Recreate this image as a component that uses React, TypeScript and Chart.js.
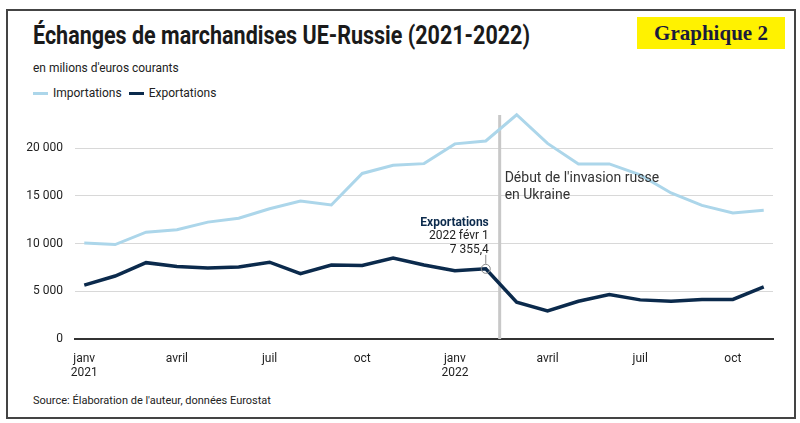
import React, { useEffect, useRef } from "react";
import { Chart, registerables } from "chart.js";

Chart.register(...registerables);

// Months: janv 2021 .. nov 2022
const categories = [
  "2021-01", "2021-02", "2021-03", "2021-04", "2021-05", "2021-06",
  "2021-07", "2021-08", "2021-09", "2021-10", "2021-11", "2021-12",
  "2022-01", "2022-02", "2022-03", "2022-04", "2022-05", "2022-06",
  "2022-07", "2022-08", "2022-09", "2022-10", "2022-11",
];
const monthNames = ["janv", "févr", "mars", "avril", "mai", "juin", "juil", "août", "sept", "oct", "nov", "déc"];

const importations = [
  10050, 9900, 11200, 11450, 12250, 12650, 13650, 14450, 14050, 17350, 18200, 18380,
  20450, 20750, 23500, 20500, 18350, 18350, 17200, 15300, 14000, 13200, 13500,
];
const exportations = [
  5650, 6600, 8000, 7600, 7450, 7550, 8050, 6850, 7750, 7700, 8480, 7750,
  7150, 7355.4, 3850, 2950, 3950, 4650, 4100, 3950, 4150, 4150, 5450,
];

const xTickIndices = [0, 3, 6, 9, 12, 15, 18, 21];
const yTicks = [0, 5000, 10000, 15000, 20000];

const highlightIndex = 13; // 2022 févr 1
const invasionPosition = 13.45; // 24 févr 2022
const invasionText = ["Début de l'invasion russe", "en Ukraine"];
const invasionTextY = 16850;

const IMP_COLOR = "#acd6ea";
const EXP_COLOR = "#0b2a4c";

const fmtThousands = (v: number) => {
  const [i, d] = String(v).split(".");
  const s = i.replace(/\B(?=(\d{3})+(?!\d))/g, " ");
  return d ? s + "," + d : s;
};

const annotationPlugin = {
  id: "annotations",
  beforeDatasetsDraw(chart: any) {
    const { ctx, scales, chartArea } = chart;
    const px = scales.x.getPixelForValue(invasionPosition);
    ctx.save();
    ctx.strokeStyle = "#c8c8c8";
    ctx.lineWidth = 3;
    ctx.beginPath();
    ctx.moveTo(px, chartArea.top + 5);
    ctx.lineTo(px, scales.y.getPixelForValue(0));
    ctx.stroke();
    ctx.restore();
  },
  afterDatasetsDraw(chart: any) {
    const { ctx, scales } = chart;
    const x = scales.x, y = scales.y;
    ctx.save();
    // invasion text
    ctx.fillStyle = "#333";
    ctx.font = "14px Roboto";
    ctx.textAlign = "left";
    ctx.textBaseline = "middle";
    const tx = x.getPixelForValue(invasionPosition) + 5;
    const ty = y.getPixelForValue(invasionTextY);
    invasionText.forEach((t, i) => ctx.fillText(t, tx, ty + i * 17));

    // highlighted point
    const px = x.getPixelForValue(highlightIndex);
    const py = y.getPixelForValue(exportations[highlightIndex]);
    ctx.strokeStyle = "#8a8a8a";
    ctx.lineWidth = 1;
    ctx.beginPath();
    ctx.arc(px, py, 4.5, 0, Math.PI * 2);
    ctx.stroke();
    ctx.beginPath();
    ctx.moveTo(px, py - 5);
    ctx.lineTo(px, py - 14);
    ctx.stroke();

    const c = categories[highlightIndex].split("-");
    const lines = [
      { t: "Exportations", f: "bold 12px Roboto", c: EXP_COLOR, dy: -46 },
      { t: `${c[0]} ${monthNames[Number(c[1]) - 1]} 1`, f: "12px Roboto", c: "#222", dy: -33 },
      { t: fmtThousands(exportations[highlightIndex]), f: "12px Roboto", c: "#222", dy: -19 },
    ];
    ctx.textAlign = "right";
    lines.forEach((l) => {
      ctx.font = l.f;
      ctx.fillStyle = l.c;
      ctx.fillText(l.t, px + 3, py + l.dy);
    });
    ctx.restore();
  },
};

export default function App() {
  const ref = useRef<HTMLCanvasElement>(null);

  useEffect(() => {
    document.body.style.margin = "0";
    const chart = new Chart(ref.current as HTMLCanvasElement, {
      type: "line",
      data: {
        datasets: [
          {
            label: "Importations",
            data: importations.map((v, i) => ({ x: i, y: v })),
            borderColor: IMP_COLOR,
            borderWidth: 3,
            pointRadius: 0,
            tension: 0,
          },
          {
            label: "Exportations",
            data: exportations.map((v, i) => ({ x: i, y: v })),
            borderColor: EXP_COLOR,
            borderWidth: 3.5,
            pointRadius: 0,
            tension: 0,
          },
        ],
      },
      options: {
        responsive: false,
        animation: false,
        devicePixelRatio: 1,
        layout: { padding: { left: 0, right: 27, top: 110, bottom: 43 } },
        plugins: { legend: { display: false }, tooltip: { enabled: false } },
        scales: {
          x: {
            type: "linear",
            min: -0.3,
            max: 22.3,
            afterBuildTicks: (s: any) => {
              s.ticks = xTickIndices.map((v) => ({ value: v }));
            },
            afterFit: (s: any) => {
              s.height = 41;
            },
            grid: { display: false },
            border: { display: true, color: "#333", width: 2 },
            ticks: {
              autoSkip: false,
              maxRotation: 0,
              padding: 5,
              color: "#222",
              font: { family: "Roboto", size: 12, lineHeight: 1.17 },
              callback: (v: any) => {
                const [yr, m] = categories[v].split("-");
                const name = monthNames[Number(m) - 1];
                return m === "01" ? [name, yr] : name;
              },
            },
          },
          y: {
            min: 0,
            max: 24000,
            afterBuildTicks: (s: any) => {
              s.ticks = yTicks.map((v) => ({ value: v }));
            },
            afterFit: (s: any) => {
              s.width = 75;
            },
            grid: { color: "#d8d8d8", lineWidth: 1, drawTicks: false },
            border: { display: false },
            ticks: {
              padding: 12,
              color: "#222",
              font: { family: "Roboto", size: 12 },
              callback: (v: any) => fmtThousands(v),
            },
          },
        },
      },
      plugins: [annotationPlugin],
    });
    return () => chart.destroy();
  }, []);

  return (
    <div style={{ position: "fixed", left: 0, top: 0, width: 800, height: 423, background: "#fff", overflow: "hidden", fontFamily: "Roboto, sans-serif" }}>
      <div style={{ position: "absolute", left: 6, top: 9, width: 786, height: 406, border: "2px solid #444" }} />
      <div style={{ position: "absolute", left: 33, top: 20, fontSize: 25, fontWeight: 700, color: "#1a1a1a", whiteSpace: "nowrap", transform: "scaleX(0.86)", transformOrigin: "left center", lineHeight: "32px" }}>
        Échanges de marchandises UE-Russie (2021-2022)
      </div>
      <div style={{ position: "absolute", left: 33, top: 59, fontSize: 13, color: "#222", whiteSpace: "nowrap", lineHeight: "18px", transform: "scaleX(0.92)", transformOrigin: "left center" }}>
        en milions d'euros courants
      </div>
      <div style={{ position: "absolute", left: 33, top: 84, fontSize: 12, color: "#222", whiteSpace: "nowrap", lineHeight: "18px", display: "flex", alignItems: "center" }}>
        <span style={{ display: "inline-block", width: 15, height: 3, background: IMP_COLOR, marginRight: 5 }} />
        <span>Importations</span>
        <span style={{ display: "inline-block", width: 15, height: 3, background: EXP_COLOR, marginLeft: 7, marginRight: 5 }} />
        <span>Exportations</span>
      </div>
      <div style={{ position: "absolute", left: 637, top: 17, width: 148, height: 32, background: "#fff200", display: "flex", alignItems: "center", justifyContent: "center", fontFamily: "'Liberation Serif', serif", fontWeight: 700, fontSize: 21, color: "#1b1b3c" }}>
        Graphique 2
      </div>
      <div style={{ position: "absolute", left: 33, top: 393, fontSize: 11, color: "#222", whiteSpace: "nowrap", lineHeight: "15px" }}>
        Source: Élaboration de l'auteur, données Eurostat
      </div>
      <canvas ref={ref} width={800} height={423} style={{ position: "absolute", left: 0, top: 0, width: 800, height: 423 }} />
    </div>
  );
}
